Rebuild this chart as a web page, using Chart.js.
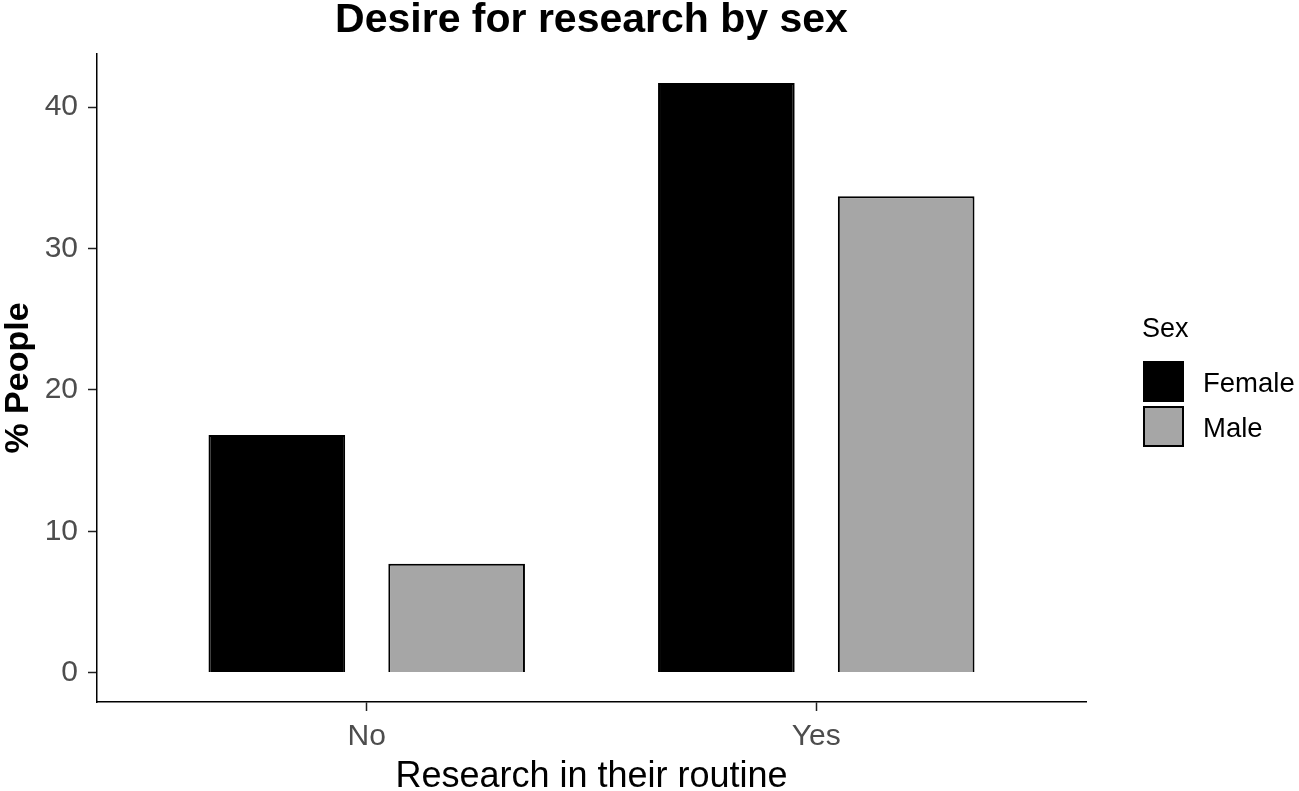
<!DOCTYPE html>
<html>
<head>
<meta charset="utf-8">
<script src="https://cdn.jsdelivr.net/npm/chart.js@4.4.1/dist/chart.umd.min.js"></script>
<style>
  html, body { margin: 0; padding: 0; background: #fff; }
  #wrap { width: 1299px; height: 791px; position: relative; }
</style>
</head>
<body>
<div id="wrap"><canvas id="c"></canvas></div>
<script>
const chartTitle = 'Desire for research by sex';
const categories = ['No', 'Yes'];
const seriesNames = ['Female', 'Male'];
const femaleValues = [16.8, 41.7];
const maleValues = [7.7, 33.7];
const yTicks = [0, 10, 20, 30, 40];
const xTitle = 'Research in their routine';
const yTitle = '% People';
const legendTitle = 'Sex';

const FONT = '"Liberation Sans", Arial, Helvetica, sans-serif';

function toPoints(vals) {
  return vals.map((v, i) => ({ x: i + 1, y: v }));
}

const legendPlugin = {
  id: 'ggLegend',
  afterDraw(chart) {
    const ctx = chart.ctx;
    ctx.save();
    ctx.fillStyle = '#000';
    ctx.textBaseline = 'middle';
    ctx.textAlign = 'left';
    ctx.font = '27px ' + FONT;
    ctx.fillText(legendTitle, 1142, 330);
    const boxX = 1143, boxW = 41, boxH = 41;
    const startY = 361, step = 45;
    chart.data.datasets.forEach((ds, i) => {
      const y = startY + i * step;
      ctx.fillStyle = ds.backgroundColor;
      ctx.fillRect(boxX, y, boxW, boxH);
      ctx.lineWidth = 2;
      ctx.strokeStyle = '#000';
      ctx.strokeRect(boxX + 1, y + 1, boxW - 2, boxH - 2);
      ctx.fillStyle = '#000';
      ctx.font = '27.5px ' + FONT;
      ctx.fillText(ds.label, 1203, y + boxH / 2 + 3);
    });
    ctx.restore();
  }
};

new Chart(document.getElementById('c'), {
  type: 'bar',
  data: {
    datasets: [
      {
        label: seriesNames[0],
        data: toPoints(femaleValues),
        backgroundColor: '#000000',
        borderColor: '#000000',
        borderWidth: 2,
        categoryPercentage: 0.8,
        barPercentage: 0.76
      },
      {
        label: seriesNames[1],
        data: toPoints(maleValues),
        backgroundColor: '#a6a6a6',
        borderColor: '#000000',
        borderWidth: 2,
        categoryPercentage: 0.8,
        barPercentage: 0.76
      }
    ]
  },
  options: {
    responsive: true,
    maintainAspectRatio: false,
    animation: false,
    layout: { padding: { left: 0, right: 213, top: 0, bottom: 0 } },
    plugins: {
      legend: { display: false },
      tooltip: { enabled: false },
      title: {
        display: true,
        text: chartTitle,
        fullSize: false,
        color: '#000',
        font: { family: FONT, size: 41, weight: 'bold', lineHeight: 1.0 },
        padding: { top: 0, bottom: 13 }
      }
    },
    scales: {
      x: {
        type: 'linear',
        min: 0.4,
        max: 2.6,
        offset: false,
        afterFit(scale) { scale.height = 89; },
        afterBuildTicks(scale) { scale.ticks = categories.map((c, i) => ({ value: i + 1 })); },
        ticks: {
          color: '#4d4d4d',
          font: { family: FONT, size: 30 },
          padding: 8,
          autoSkip: false,
          maxRotation: 0,
          callback: (v) => categories[Math.round(v) - 1] || ''
        },
        grid: {
          display: true,
          offset: false,
          drawOnChartArea: false,
          drawTicks: true,
          tickLength: 9,
          tickColor: '#222',
          tickWidth: 1.5
        },
        border: { display: true, color: '#000', width: 1.5 },
        title: {
          display: true,
          text: xTitle,
          color: '#000',
          font: { family: FONT, size: 36, lineHeight: 1.0 },
          padding: { top: 0, bottom: -4 }
        }
      },
      y: {
        type: 'linear',
        min: -2.08,
        max: 43.76,
        afterFit(scale) { scale.width = 97; },
        afterBuildTicks(scale) { scale.ticks = yTicks.map(v => ({ value: v })); },
        ticks: {
          color: '#4d4d4d',
          font: { family: FONT, size: 30 },
          padding: 10
        },
        grid: {
          display: true,
          drawOnChartArea: false,
          drawTicks: true,
          tickLength: 9,
          tickColor: '#222',
          tickWidth: 1.5
        },
        border: { display: true, color: '#000', width: 1.5 },
        title: {
          display: true,
          text: yTitle,
          color: '#000',
          font: { family: FONT, size: 34, weight: 'bold', lineHeight: 1.0 },
          padding: { top: 2, bottom: 0 }
        }
      }
    }
  },
  plugins: [legendPlugin]
});
</script>
</body>
</html>
